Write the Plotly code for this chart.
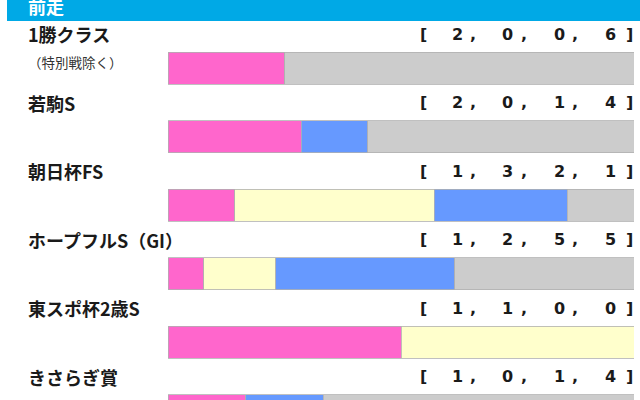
import plotly.graph_objects as go

# 前走別成績 [1着, 2着, 3着, 着外]
races = ["1勝クラス", "若駒S", "朝日杯FS", "ホープフルS（GI）", "東スポ杯2歳S", "きさらぎ賞"]
notes = ["（特別戦除く）", "", "", "", "", ""]
first = [2, 2, 1, 1, 1, 1]
second = [0, 0, 3, 2, 1, 0]
third = [0, 1, 2, 5, 0, 1]
other = [6, 4, 1, 5, 0, 4]

series = [("1着", first, "#FF66CC"), ("2着", second, "#FFFFCC"),
          ("3着", third, "#6699FF"), ("着外", other, "#CCCCCC")]

rows = list(range(len(races)))
totals = [a + b + c + d for a, b, c, d in zip(first, second, third, other)]

ROW_PX = 68.54          # 1行の高さ(px)
BAR_W = 32 / ROW_PX     # バーの太さ(データ単位)
LABEL_UP = 34 / ROW_PX  # バー中心からラベルまで

fig = go.Figure()
for name, vals, col in series:
    fig.add_trace(go.Bar(
        y=rows, x=[v / t for v, t in zip(vals, totals)],
        orientation="h", name=name, width=BAR_W,
        marker=dict(color=col, line=dict(color="#b0b0b0", width=0.8)),
    ))

# 見出し帯
fig.add_shape(type="rect", xref="paper", yref="paper",
              x0=7 / 640, x1=1, y0=1 - 21 / 400, y1=1,
              fillcolor="#00A9E6", line_width=0, layer="below")
fig.add_annotation(xref="paper", yref="paper", x=26 / 640, y=1 - 6 / 400,
                   text="<b>前走</b>", showarrow=False, xanchor="left", yanchor="middle",
                   font=dict(family="Noto Sans CJK JP", size=18, color="white"))

jp = dict(family="Noto Sans CJK JP", color="#1a1a1a")
mono = dict(family="DejaVu Sans", size=16, color="#1a1a1a")
num_x = [457, 507.5, 559, 610]   # 数字の位置(px)

def txt(x, y, text, font, anchor="center", shift=0):
    fig.add_annotation(xref="paper", yref="y", x=x / 640, y=y, yshift=shift,
                       text=text, showarrow=False, xanchor=anchor, yanchor="middle",
                       font=font)

for i, r in enumerate(races):
    ly = i - LABEL_UP
    txt(26, ly, f"<b>{r}</b>", dict(jp, size=18), "left")
    txt(423, ly, "<b>[</b>", mono)
    for j, (_, v, _) in enumerate(series):
        txt(num_x[j], ly, f"<b>{v[i]}</b>", mono)
        if j < 3:
            txt(num_x[j] + 16, ly, "<b>,</b>", mono)
    txt(629, ly, "<b>]</b>", mono)
    if notes[i]:
        txt(26, i - 6 / ROW_PX, notes[i], dict(jp, size=13.5, color="#333333"), "left")

fig.update_layout(
    width=640, height=400,
    margin=dict(l=0, r=0, t=0, b=0),
    barmode="stack", showlegend=False,
    plot_bgcolor="white", paper_bgcolor="white",
    xaxis=dict(domain=[168 / 640, 634 / 640], range=[0, 1], visible=False, fixedrange=True),
    yaxis=dict(range=[4.840, -0.996], visible=False, fixedrange=True),
)

fig.write_html("out.html", config={"displayModeBar": False},
               post_script="document.body.style.margin='0';")
